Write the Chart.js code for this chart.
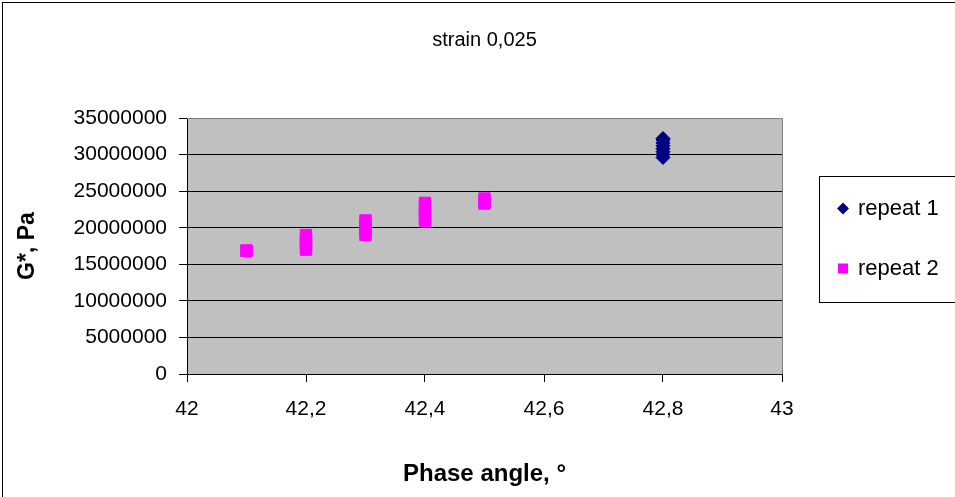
<!DOCTYPE html>
<html>
<head>
<meta charset="utf-8">
<script src="https://cdn.jsdelivr.net/npm/chart.js@4/dist/chart.umd.min.js"></script>
<style>
  html, body { margin: 0; padding: 0; background: #fff; }
  #wrap { width: 955px; height: 497px; position: relative; }
</style>
</head>
<body>
<div id="wrap"><canvas id="c" width="955" height="497"></canvas></div>
<script>
// ---- data ----
const seriesNames = ['repeat 1', 'repeat 2'];
const phaseAngle1 = [42.8, 42.8, 42.8, 42.8, 42.8, 42.8, 42.8, 42.8];
const gStar1 = [29600000, 30000000, 30400000, 30800000, 31200000, 31600000, 32000000, 32200000];
const phaseAngle2 = [42.1, 42.1,
  42.2, 42.2, 42.2, 42.2, 42.2, 42.2,
  42.3, 42.3, 42.3, 42.3, 42.3, 42.3,
  42.4, 42.4, 42.4, 42.4, 42.4, 42.4,
  42.5, 42.5, 42.5];
const gStar2 = [16800000, 16900000,
  17000000, 17400000, 17800000, 18200000, 18600000, 19000000,
  19000000, 19400000, 19800000, 20200000, 20600000, 21000000,
  20900000, 21400000, 21900000, 22400000, 22900000, 23400000,
  23300000, 23600000, 24000000];
const xTickValues = [42, 42.2, 42.4, 42.6, 42.8, 43];
const xTickLabels = ['42', '42,2', '42,4', '42,6', '42,8', '43'];
const yTickValues = [0, 5000000, 10000000, 15000000, 20000000, 25000000, 30000000, 35000000];
const yTickLabels = ['0', '5000000', '10000000', '15000000', '20000000', '25000000', '30000000', '35000000'];
const seriesColors = ['#000080', '#FF00FF'];

const FONT = "'Liberation Sans', Arial, sans-serif";
Chart.defaults.font.family = FONT;
Chart.defaults.color = '#000';

const toPts = (xs, ys) => xs.map((x, i) => ({ x: x, y: ys[i] }));

const plotBg = {
  id: 'plotBg',
  beforeDraw(chart) {
    const { ctx, chartArea: a } = chart;
    ctx.save();
    ctx.fillStyle = '#fff';
    ctx.fillRect(0, 0, chart.width, chart.height);
    ctx.strokeStyle = '#000';
    ctx.lineWidth = 1;
    ctx.strokeRect(2.5, 2.5, chart.width + 20, chart.height + 20);
    ctx.fillStyle = '#C0C0C0';
    ctx.fillRect(a.left, a.top, a.right - a.left, a.bottom - a.top);
    ctx.restore();
  },
  beforeDatasetsDraw(chart) {
    const { ctx, chartArea: a } = chart;
    ctx.save();
    ctx.strokeStyle = '#808080';
    ctx.lineWidth = 1;
    ctx.beginPath();
    ctx.moveTo(a.left, Math.round(a.top) + 0.5);
    ctx.lineTo(Math.round(a.right) + 0.5, Math.round(a.top) + 0.5);
    ctx.lineTo(Math.round(a.right) + 0.5, a.bottom);
    ctx.stroke();
    ctx.restore();
  }
};

const boxLegend = {
  id: 'boxLegend',
  afterDraw(chart) {
    const { ctx } = chart;
    const left = 819, top = 176, h = 126;
    ctx.save();
    ctx.fillStyle = '#fff';
    ctx.fillRect(left, top, 200, h);
    ctx.strokeStyle = '#000';
    ctx.lineWidth = 1;
    ctx.strokeRect(left + 0.5, top + 0.5, 200, h);
    const rows = [208.5, 268.5];
    chart.data.datasets.forEach((ds, i) => {
      const cy = rows[i], cx = 843;
      ctx.fillStyle = ds.backgroundColor;
      ctx.beginPath();
      if (ds.pointStyle === 'rectRot') {
        const r = 6;
        ctx.moveTo(cx - r, cy); ctx.lineTo(cx, cy - r); ctx.lineTo(cx + r, cy); ctx.lineTo(cx, cy + r);
        ctx.closePath();
      } else {
        ctx.rect(cx - 5, cy - 5, 10, 10);
      }
      ctx.fill();
      ctx.fillStyle = '#000';
      ctx.font = "22px " + FONT;
      ctx.textBaseline = 'middle';
      ctx.textAlign = 'left';
      ctx.fillText(ds.label, 858, cy);
    });
    ctx.restore();
  }
};

new Chart(document.getElementById('c'), {
  type: 'scatter',
  data: {
    datasets: [
      {
        label: seriesNames[0],
        data: toPts(phaseAngle1, gStar1),
        pointStyle: 'rectRot',
        pointRadius: 7,
        pointHoverRadius: 7,
        backgroundColor: seriesColors[0],
        borderColor: seriesColors[0],
        borderWidth: 1
      },
      {
        label: seriesNames[1],
        data: toPts(phaseAngle2, gStar2),
        pointStyle: 'rect',
        pointRadius: 8,
        pointHoverRadius: 8,
        backgroundColor: seriesColors[1],
        borderColor: seriesColors[1],
        borderWidth: 1
      }
    ]
  },
  options: {
    responsive: false,
    animation: false,
    events: [],
    layout: { padding: { left: 0, right: 173, top: 0, bottom: 0 } },
    plugins: {
      legend: { display: false },
      tooltip: { enabled: false },
      title: {
        display: true,
        text: 'strain 0,025',
        fullSize: false,
        color: '#000',
        font: { size: 20, weight: 'normal', family: FONT },
        padding: { top: 28, bottom: 66 }
      }
    },
    scales: {
      x: {
        type: 'linear',
        min: 42, max: 43,
        afterBuildTicks(scale) { scale.ticks = xTickValues.map(v => ({ value: v })); },
        afterFit(scale) { scale.height = 497 - 374; },
        ticks: {
          callback: (v, i) => xTickLabels[i],
          font: { size: 21, family: FONT },
          color: '#000',
          padding: 15,
          maxRotation: 0,
          autoSkip: false
        },
        grid: { drawOnChartArea: false, drawTicks: true, tickLength: 8, tickColor: '#000' },
        border: { display: true, color: '#000', width: 1 },
        title: {
          display: true,
          text: 'Phase angle, °',
          color: '#000',
          font: { size: 24, weight: 'bold', family: FONT },
          padding: { top: 0, bottom: 8 }
        }
      },
      y: {
        type: 'linear',
        min: 0, max: 35000000,
        afterBuildTicks(scale) { scale.ticks = yTickValues.map(v => ({ value: v })); },
        afterFit(scale) { scale.width = 187; },
        ticks: {
          callback: (v, i) => yTickLabels[i],
          font: { size: 21, family: FONT },
          color: '#000',
          padding: 12,
          autoSkip: false
        },
        grid: {
          color: (c) => (c.tick && c.tick.value === 35000000) ? 'rgba(0,0,0,0)' : '#000',
          tickColor: '#000',
          tickLength: 8,
          lineWidth: 1
        },
        border: { display: true, color: '#000', width: 1 },
        title: {
          display: true,
          text: 'G*, Pa',
          color: '#000',
          font: { size: 23, weight: 'bold', family: FONT },
          padding: { top: 14, bottom: 0 }
        }
      }
    }
  },
  plugins: [plotBg, boxLegend]
});
</script>
</body>
</html>
